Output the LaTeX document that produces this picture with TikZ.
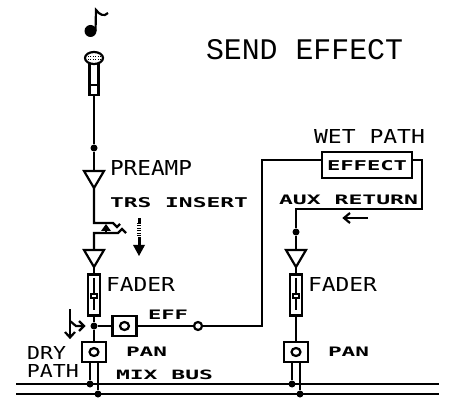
\documentclass[tikz,border=0pt]{standalone}
\usepackage{graphicx}
\usepackage{fontspec}
\setmainfont{DejaVu Sans Mono}
\newfontfamily\titlefont{Liberation Mono}
\usetikzlibrary{shapes.geometric}
\tikzset{
  wire/.style={line width=2.2pt,line join=miter},
  lbl/.style={anchor=south west,inner sep=0pt,outer sep=0pt},
  small/.style={lbl,font=\bfseries},
  amp/.style={draw,line width=2.2pt,isosceles triangle,isosceles triangle apex angle=58,isosceles triangle stretches,shape border rotate=-90,minimum width=20pt,minimum height=17pt,inner sep=0pt,outer sep=0pt,anchor=apex},
  dot/.style={circle,fill=black,inner sep=0pt,minimum size=7pt},
  ring/.style={circle,draw,line width=2.2pt,fill=white,inner sep=0pt,minimum size=8pt},
  fbox/.style={draw,line width=2.2pt,fill=white,inner sep=0pt,outer sep=0pt,minimum width=12pt,minimum height=41pt},
  pbox/.style={draw,line width=2.2pt,fill=white,inner sep=0pt,outer sep=0pt,minimum width=24pt,minimum height=20pt},
  knob/.style={draw,line width=1.5pt,fill=white,inner sep=0pt,minimum width=6pt,minimum height=4pt},
  oring/.style={ellipse,draw,line width=2.2pt,inner sep=0pt,minimum width=9pt,minimum height=8pt},
}
\newcommand{\tx}[3]{\resizebox{#1pt}{#2pt}{#3}}
\begin{document}
\begin{tikzpicture}[x=1pt,y=-1pt]
\useasboundingbox (0,0) rectangle (457,411);
\fill[white] (0,0) rectangle (457,411);

% note
\node[circle,fill=black,inner sep=0pt,minimum size=12pt] (notehead) at (90.5,31) {};
\coordinate (notetop) at (96,10);
\draw[wire] (95.5,31) -- (notetop) .. controls (100,15) and (104,17) .. (108,13);

% microphone
\node[draw,line width=2.2pt,inner sep=0pt,minimum width=9pt,minimum height=32pt] (micbody) at (94,79) {};
\node[draw,ellipse,line width=2.2pt,fill=white,inner sep=0pt,minimum width=18pt,minimum height=12pt] (michead) at (94,58) {};
\draw[wire] (89.5,85) -- (98.5,85);
\foreach \i in {87.5,90,92.5,95,97.5,100}{\fill (\i,56) rectangle +(1,1); \fill (\i,59) rectangle +(1,1);}

% nodes
\node[dot] (d1) at (94,148) {};
\node[amp] (amp1) at (94,188) {};
\node[amp] (amp2) at (94,267) {};
\node[amp] (amp3) at (296,267) {};
\node[fbox] (f1) at (94,295) {};
\node[fbox] (f2) at (296,295) {};
\node[dot] (d2) at (94,326) {};
\node[pbox,minimum width=24pt] (effbox) at (124.5,326) {};
\node[pbox] (pan1) at (94,352) {};
\node[pbox] (pan2) at (296,352) {};
\node[ring] (r1) at (198,326) {};
\node[draw,line width=2.2pt,inner sep=0pt,minimum width=90pt,minimum height=26pt] (fx) at (367,165) {};
\node[dot] (d3) at (296,232) {};
\coordinate (c1) at (94,223);
\coordinate (c2) at (94,233);
\coordinate (bus1a) at (16,384);
\coordinate (bus1b) at (439,384);
\coordinate (bus2a) at (16,394);
\coordinate (bus2b) at (439,394);
\coordinate (c3) at (262,326);
\coordinate (c4) at (262,160);
\coordinate (c5) at (422,160);
\coordinate (c6) at (422,209);
\coordinate (c7) at (296,209);

% wiring
\draw[wire] (micbody.south) -- (d1) -- (amp1.north);
\draw[wire] (amp1.apex) -- (c1) -- (113,223) -- (117,227) -- (120,224);
\draw[wire] (amp2.north) -- (c2) -- (118,233) -- (122,229) -- (126,233);
\draw[wire] (amp2.apex) -- (f1.north);
\draw[wire] (f1.south) -- (d2) -- (pan1.north);
\draw[wire] (d2) -- (effbox.west);
\draw[wire] (effbox.east) -- (r1.west);
\draw[wire] (r1.east) -- (c3) -- (c4) -- (fx.west |- c4);
\draw[wire] (fx.east |- c5) -- (c5) -- (c6) -- (c7) -- (d3) -- (amp3.north);
\draw[wire] (amp3.apex) -- (f2.north);
\draw[wire] (f2.south) -- (pan2.north);
\draw[wire] (bus1a) -- (bus1b);
\draw[wire] (bus2a) -- (bus2b);

% bus taps
\node[dot] (t1) at (90,384) {};
\node[dot] (t2) at (98,394) {};
\node[dot] (t3) at (292,384) {};
\node[dot] (t4) at (300,394) {};
\draw[wire] (t1 |- pan1.south) -- (t1);
\draw[wire] (t2 |- pan1.south) -- (t2);
\draw[wire] (t3 |- pan2.south) -- (t3);
\draw[wire] (t4 |- pan2.south) -- (t4);

% fader internals
\foreach \f in {f1,f2}{
  \draw[line width=1.6pt] (\f.north)++(0,3) -- ++(0,32);
  \node[knob] at ([yshift=-1pt]\f.center) {};
}
% O symbols
\node[oring] (o1) at (effbox.center) {};
\node[oring] (o2) at (pan1.center) {};
\node[oring] (o3) at (pan2.center) {};

% insert arrows
\fill (106,224) -- (111,231) -- (101,231) -- cycle;
\draw[wire] (106,228) -- (106,233);
\fill (137.5,218) rectangle (141,223);
\draw[line width=3.5pt,dash pattern=on 1pt off 1.5pt] (139,223) -- (139,237);
\fill (137.5,237) rectangle (141,245);
\fill (133,245) -- (145,245) -- (139,256) -- cycle;

% signal arrows
\draw[wire] (70,309) -- (70,337);
\draw[wire] (65,332) -- (70,337.5) -- (75,332);
\draw[wire] (70,321) -- (76,326) -- (83,326);
\draw[wire] (79,321) -- (84,326) -- (79,331);
\draw[wire] (368,218) -- (344,218);
\draw[wire] (350,213) -- (344,218) -- (350,223);

% labels
\node[lbl] (t0) at (206,59.5) {\titlefont\tx{197}{20}{SEND EFFECT}};
\node[lbl] (tpre) at (110,175.5) {\tx{82}{15}{PREAMP}};
\node[small] (ttrs) at (110,207.5) {\tx{138}{10}{TRS INSERT}};
\node[lbl] (tf1) at (106,291.5) {\tx{69}{14}{FADER}};
\node[lbl] (tf2) at (308,291.5) {\tx{69}{14}{FADER}};
\node[small] (teff) at (148,319.5) {\tx{40}{9.5}{EFF}};
\node[small] (tp1) at (126,356.5) {\tx{41}{9.5}{PAN}};
\node[small] (tp2) at (328,356.5) {\tx{41}{9.5}{PAN}};
\node[lbl] (tdry) at (27,359.5) {\tx{39}{13}{DRY}};
\node[lbl] (tpath) at (27,377.5) {\tx{52}{13}{PATH}};
\node[small] (tmix) at (116,379.5) {\tx{97}{9.5}{MIX BUS}};
\node[lbl] (twet) at (314,143.5) {\tx{111}{14}{WET PATH}};
\node[small] (tfx) at (327,170.5) {\tx{80}{10}{EFFECT}};
\node[small] (taux) at (279,204.5) {\tx{139}{9.5}{AUX RETURN}};
\end{tikzpicture}
\end{document}
